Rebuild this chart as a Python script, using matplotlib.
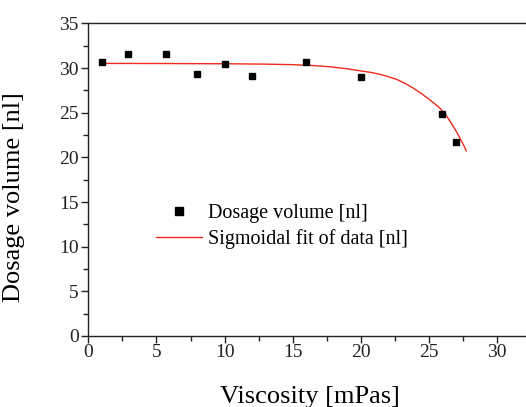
import matplotlib
matplotlib.use("Agg")
import matplotlib.pyplot as plt
from matplotlib.ticker import MultipleLocator

plt.rcParams['font.family'] = ['Liberation Serif', 'DejaVu Serif']

# Measured data
viscosity = [1.0, 2.9, 5.7, 8.0, 10.0, 12.0, 16.0, 20.0, 26.0, 27.0]
dosage = [30.7, 31.55, 31.55, 29.3, 30.5, 29.15, 30.7, 29.05, 24.85, 21.7]

# Sigmoidal fit curve
fit_x = [1.0, 5.0, 10.0, 13.0, 15.0, 16.5, 17.75, 19.0, 20.0, 20.8, 21.4, 22.0,
         22.64, 23.3, 23.86, 24.5, 25.09, 25.5, 25.82, 26.1, 26.31, 26.55, 26.8,
         27.05, 27.29, 27.55, 27.75]
fit_y = [30.52, 30.51, 30.48, 30.44, 30.38, 30.28, 30.14, 29.92, 29.68, 29.5,
         29.3, 29.05, 28.73, 28.25, 27.75, 27.1, 26.42, 25.92, 25.5, 25.02,
         24.62, 24.05, 23.45, 22.82, 22.15, 21.38, 20.72]

x_label = "Viscosity [mPas]"
y_label = "Dosage volume [nl]"
legend_labels = ["Dosage volume [nl]", "Sigmoidal fit of data [nl]"]

fig = plt.figure(figsize=(5.26, 4.07), dpi=100)
ax = fig.add_axes([0.168, 0.1745, 0.844, 0.768])

ax.plot(fit_x, fit_y, color='#f02a1e', lw=1.0, label=legend_labels[1], zorder=2)
ax.plot(viscosity, dosage, linestyle='none', marker='s', markersize=4.8,
        color='black', label=legend_labels[0], zorder=3)

ax.set_xlim(0, 32.6)
ax.set_ylim(0, 35)
ax.xaxis.set_major_locator(MultipleLocator(5))
ax.xaxis.set_minor_locator(MultipleLocator(2.5))
ax.yaxis.set_major_locator(MultipleLocator(5))
ax.yaxis.set_minor_locator(MultipleLocator(2.5))

ax.tick_params(which='major', direction='out', length=5, width=1, labelsize=14,
               top=False, right=False, colors='#222222')
ax.tick_params(which='minor', direction='out', length=3.5, width=1,
               top=False, right=False, colors='#222222')
ax.tick_params(axis='x', pad=1)
ax.tick_params(axis='y', pad=2)
for side in ax.spines.values():
    side.set_linewidth(1.0)
    side.set_color('#222222')

ax.set_xlabel(x_label, fontsize=19)
ax.set_ylabel(y_label, fontsize=19)
ax.xaxis.set_label_coords(0.5, -0.16)
ax.yaxis.set_label_coords(-0.143, 0.445)

handles, labels = ax.get_legend_handles_labels()
leg = ax.legend(handles[::-1], labels[::-1], loc='upper left',
                bbox_to_anchor=(0.134, 0.447), frameon=False, fontsize=14.5,
                handlelength=2.3, handletextpad=0.3, labelspacing=0.3,
                borderaxespad=0, markerscale=1.15)

fig.savefig("out.png", dpi=100)
